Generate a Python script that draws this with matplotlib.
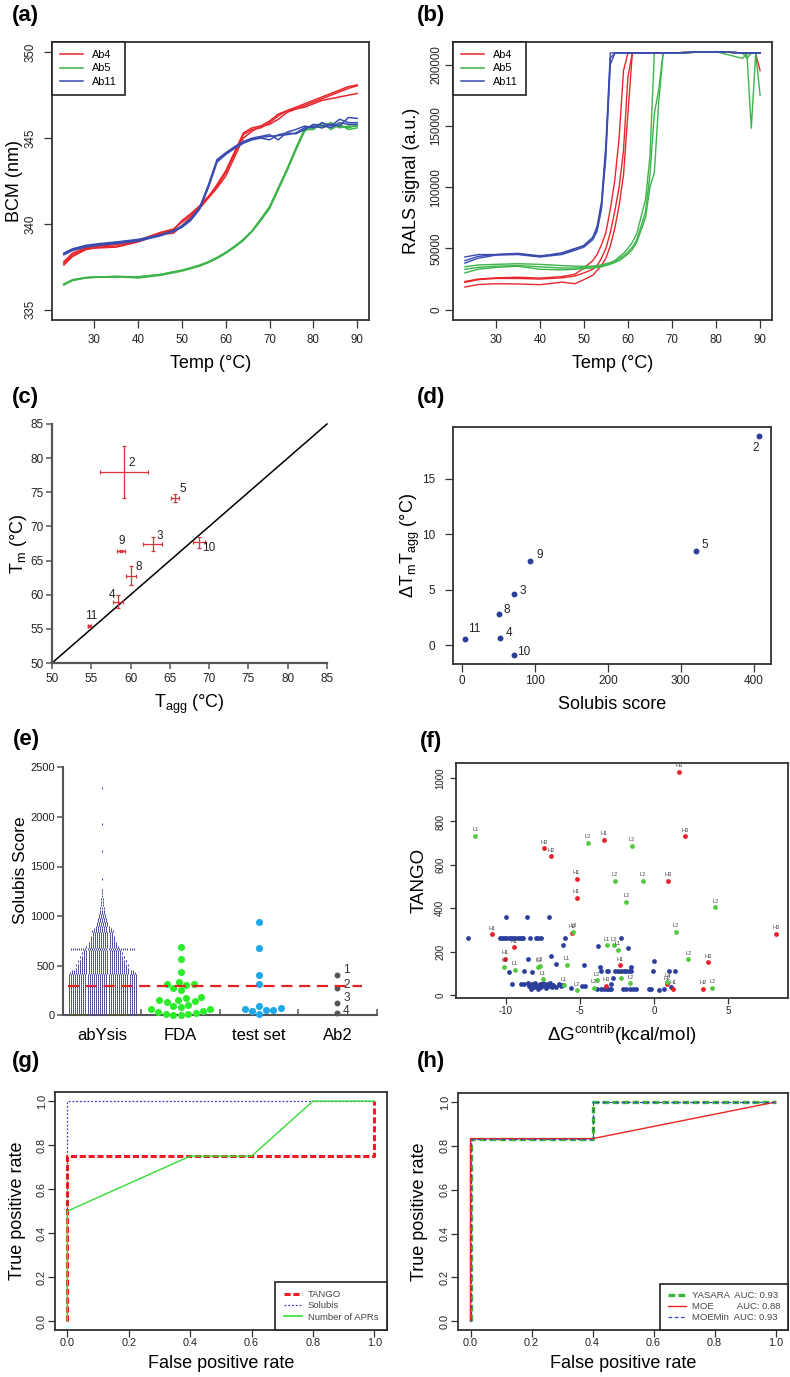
import numpy as np
import matplotlib.pyplot as plt
from matplotlib.lines import Line2D
from matplotlib.ticker import FormatStrFormatter

plt.rcParams['font.family'] = ['Liberation Sans', 'DejaVu Sans']
plt.rcParams['mathtext.fontset'] = 'custom'
plt.rcParams['mathtext.rm'] = 'Liberation Sans'
plt.rcParams['mathtext.it'] = 'Liberation Sans:italic'
plt.rcParams['axes.unicode_minus'] = False

# ---------------- data ----------------
# (a) barycentric mean, 3 replicates per antibody
temps_a = [23, 25, 28, 31, 35, 40, 45, 48, 50, 52, 54, 56, 58, 60, 62, 64, 66, 68, 70, 72, 74, 76, 78, 80, 82, 84, 86, 88, 90]
ab4_bcm = [
    [337.6, 338.1, 338.5, 338.65, 338.7, 339.0, 339.45, 339.65, 340.2, 340.6, 341.05, 341.6, 342.2, 343.0, 344.1, 345.2, 345.5, 345.6, 345.9, 346.3, 346.6, 346.7, 346.9, 347.1, 347.3, 347.5, 347.7, 347.9, 348.05],
    [337.7, 338.2, 338.55, 338.6, 338.65, 338.95, 339.4, 339.45, 339.9, 340.4, 340.9, 341.5, 342.1, 342.8, 343.9, 345.0, 345.4, 345.7, 345.8, 346.1, 346.5, 346.7, 346.8, 347.0, 347.2, 347.3, 347.4, 347.5, 347.6],
    [337.8, 338.3, 338.6, 338.7, 338.8, 339.05, 339.5, 339.7, 340.1, 340.5, 341.0, 341.55, 342.3, 343.1, 344.2, 345.3, 345.6, 345.7, 346.0, 346.4, 346.6, 346.8, 347.0, 347.2, 347.4, 347.6, 347.8, 348.0, 348.1],
]
ab5_bcm = [
    [336.45, 336.7, 336.85, 336.9, 336.9, 336.92, 337.05, 337.2, 337.3, 337.4, 337.55, 337.75, 338.0, 338.3, 338.65, 339.05, 339.55, 340.2, 340.9, 342.0, 343.1, 344.3, 345.4, 345.7, 345.6, 345.8, 345.6, 345.7, 345.7],
    [336.5, 336.75, 336.88, 336.92, 336.92, 336.85, 337.0, 337.15, 337.25, 337.4, 337.55, 337.75, 338.0, 338.3, 338.65, 339.05, 339.6, 340.25, 341.0, 342.1, 343.2, 344.4, 345.5, 345.5, 345.9, 345.5, 345.8, 345.5, 345.6],
    [336.45, 336.72, 336.86, 336.9, 336.95, 336.9, 337.05, 337.2, 337.3, 337.45, 337.6, 337.8, 338.05, 338.35, 338.7, 339.1, 339.6, 340.3, 341.0, 342.1, 343.2, 344.4, 345.55, 345.6, 345.7, 345.9, 345.7, 345.6, 345.75],
]
ab11_bcm = [
    [338.25, 338.5, 338.7, 338.8, 338.9, 339.05, 339.35, 339.6, 339.85, 340.25, 340.9, 342.2, 343.7, 344.1, 344.45, 344.75, 344.95, 345.05, 345.1, 345.15, 345.2, 345.3, 345.6, 345.7, 345.6, 345.8, 345.7, 346.2, 346.15],
    [338.2, 338.45, 338.65, 338.75, 338.85, 339.0, 339.3, 339.55, 339.8, 340.2, 340.85, 342.1, 343.6, 344.05, 344.4, 344.7, 344.9, 345.0, 344.9, 345.2, 345.3, 345.25, 345.5, 345.8, 345.75, 345.6, 345.9, 345.8, 345.8],
    [338.3, 338.55, 338.75, 338.85, 338.95, 339.1, 339.35, 339.6, 339.9, 340.3, 340.95, 342.25, 343.75, 344.15, 344.5, 344.8, 345.0, 345.1, 345.2, 344.9, 345.35, 345.5, 345.7, 345.6, 345.9, 345.7, 346.1, 345.9, 345.9],
]

# (b) RALS signal
temps_b = [23, 26, 30, 35, 40, 45, 48, 50, 52, 53, 54, 55, 56, 57, 58, 59, 60, 61, 62, 64, 65, 66, 67, 68, 70, 80, 86, 87, 88, 89, 90]
ab4_rals = [
    [23000, 25000, 26000, 26500, 25800, 27000, 29000, 34000, 40000, 45000, 53000, 63000, 82000, 105000, 140000, 195000, 209500, 209500, 209500, 209500, 209500, 209500, 209500, 209500, 209500, 210500, 209500, 209500, 209500, 209000, 195000],
    [22300, 24500, 25500, 25500, 25000, 26000, 27500, 30000, 33000, 36000, 42000, 50000, 63000, 80000, 100000, 130000, 190000, 209500, 209500, 209500, 209500, 209500, 209500, 209500, 209500, 210500, 209500, 209500, 209500, 209500, 209500],
    [18500, 20500, 21200, 21000, 20400, 22500, 21200, 24500, 28000, 32000, 36000, 42000, 52000, 66000, 85000, 110000, 160000, 209500, 209500, 209500, 209500, 209500, 209500, 209500, 209500, 210500, 209500, 209500, 209500, 209500, 209500],
]
ab5_rals = [
    [35000, 36500, 37000, 37500, 37000, 36000, 35500, 35500, 35500, 36000, 36500, 37500, 38500, 40000, 43000, 46000, 50000, 55000, 62000, 90000, 125000, 209500, 209500, 209500, 209500, 210500, 209500, 205000, 209500, 209500, 209500],
    [30000, 33000, 34500, 35500, 33000, 32500, 33000, 33500, 34000, 34500, 35000, 36000, 37000, 38500, 40000, 42500, 45500, 49000, 55000, 75000, 100000, 112000, 170000, 209500, 209500, 210500, 205000, 209000, 148000, 209000, 175000],
    [33000, 34500, 35500, 36000, 35000, 34000, 34000, 34500, 35000, 35500, 36000, 37000, 38000, 39500, 41500, 44000, 47000, 51000, 57000, 80000, 110000, 160000, 180000, 209500, 209500, 210500, 209500, 209500, 209500, 209500, 209500],
]
ab11_rals = [
    [43000, 45000, 45000, 45500, 43500, 46500, 50000, 52000, 58500, 65000, 85000, 130000, 205000, 209500, 209500, 209500, 209500, 209500, 209500, 209500, 209500, 209500, 209500, 209500, 209500, 210500, 209500, 209500, 209500, 209500, 209500],
    [38000, 42000, 44500, 45000, 43000, 45000, 48500, 51000, 57000, 64000, 82000, 125000, 200000, 209000, 209500, 209500, 209500, 209500, 209500, 209500, 209500, 209500, 209500, 209500, 209500, 210500, 209500, 209500, 209500, 209500, 209500],
    [40000, 43500, 45000, 46000, 44000, 45500, 49500, 52500, 59000, 68000, 88000, 135000, 209500, 209500, 209500, 209500, 209500, 209500, 209500, 209500, 209500, 209500, 209500, 209500, 209500, 210500, 209500, 209500, 209500, 209500, 209500],
]
ab_names = ['Ab4', 'Ab5', 'Ab11']

# (c) Tm vs Tagg
c_ids = ['2', '5', '9', '3', '10', '8', '4', '11']
c_tagg = [59.2, 65.7, 58.8, 62.8, 68.75, 60.05, 58.4, 54.75]
c_tm = [78.0, 74.2, 66.4, 67.4, 67.7, 62.8, 59.0, 55.35]
c_tagg_err = [3.05, 0.5, 0.5, 1.17, 0.75, 0.64, 0.64, 0.2]
c_tm_err = [3.8, 0.6, 0.1, 1.0, 0.8, 1.4, 1.0, 0.15]

# (d) delta Tm-Tagg vs Solubis score
d_ids = ['2', '5', '9', '3', '8', '11', '4', '10']
d_solubis = [407.7, 321.6, 93, 71, 50, 3.6, 51.3, 70.5]
d_delta = [18.9, 8.5, 7.6, 4.6, 2.8, 0.6, 0.7, -0.9]

# (e) Solubis score distributions
e_groups = ['abYsis', 'FDA', 'test set', 'Ab2']
abysis_score = [10, 30, 50, 70, 90, 110, 130, 150, 170, 190, 210, 230, 250, 270, 290, 310, 330, 350, 370, 390, 410, 430, 450,
                470, 490, 510, 530, 550, 570, 590, 610, 630, 650, 665,
                690, 710, 730, 750, 770, 790, 810, 830, 850, 870,
                890, 910, 930, 950, 970, 990, 1010, 1030, 1050,
                1080, 1110, 1140, 1170, 1200, 1230, 1260, 1370, 1660, 1930, 2290]
abysis_count = [33, 33, 33, 33, 33, 33, 33, 33, 33, 33, 33, 33, 33, 33, 33, 33, 33, 33, 33, 33, 33, 32, 30,
                26, 24, 26, 22, 24, 20, 22, 18, 20, 18, 31,
                16, 14, 14, 12, 12, 12, 10, 10, 11, 9,
                7, 6, 6, 5, 5, 4, 4, 3, 3,
                3, 2, 2, 2, 1, 1, 1, 1, 1, 1, 1]
fda_score = [685, 564, 436, 336, 312, 272, 252, 305, 319, 174, 157, 131, 141, 157, 184,
             101, 84, 60, 43, 67, 91, 26, 10, 3, 3, 13, 33]
test_score = [944, 682, 406, 319, 74, 53, 46, 94, 16, 50, 67]
ab2_score = [406, 278, 121, 26]
ab2_ids = ['1', '2', '3', '4']
solubis_threshold = 300

# (f) TANGO vs dG contrib
f_red = [(1.69, 1029, 'H3'), (2.12, 731, 'H3'), (-3.37, 716, 'H1'), (-7.44, 676, 'H3'), (-6.95, 641, 'H2'),
         (-5.22, 537, 'H1'), (0.95, 528, 'H3'), (-5.22, 449, 'H1'), (-10.93, 280, 'H1'), (-5.5, 288, 'H2'),
         (8.21, 283, 'H3'), (-9.42, 220, 'H2'), (-10.07, 168, 'H1'), (-2.27, 137, 'H1'), (3.64, 151, 'H3'),
         (-3.26, 43, 'H3'), (0.88, 51, 'H2'), (1.26, 29, 'H1'), (3.29, 29, 'H2')]
f_green = [(-12.05, 734, 'L1'), (-4.45, 703, 'L2'), (-1.5, 688, 'L2'), (-2.63, 528, 'L2'), (-0.76, 528, 'L2'),
           (-1.86, 430, 'L2'), (4.12, 405, 'L2'), (-5.45, 293, 'L3'), (1.46, 292, 'L2'), (-3.17, 230, 'L1'),
           (-2.7, 230, 'L2'), (-2.45, 208, 'L1'), (-10.1, 130, 'L1'), (-9.38, 116, 'L1'), (-7.8, 131, 'L3'),
           (-7.68, 135, 'L3'), (-5.89, 140, 'L1'), (2.3, 166, 'L2'), (-7.49, 74, 'L1'), (-6.09, 45, 'L1'),
           (-5.19, 23, 'L2'), (-4.07, 34, 'L2'), (-3.87, 69, 'L2'), (-2.25, 77, 'L3'), (-1.59, 54, 'L2'),
           (0.9, 61, 'L4'), (3.94, 34, 'L2')]
f_blue_x = [-12.55, -10.4, -10.25, -10.1, -9.95, -9.8, -9.65, -9.5, -9.35, -9.2, -9.05, -8.9, -8.8, -8.38, -7.94,
            -7.8, -7.65, -6.03, -2.2, -10.0, -8.54, -7.08, -6.14, -1.75, -3.75, -8.48, -6.97, -6.63, -4.74,
            -9.76, -8.79, -8.23, -3.66, 0.0, -1.57, -3.6, -3.2, -3.1, -2.65, -2.4, -2.2, -2.0, -1.86, -1.7,
            -1.53, -0.04, 0.99, 1.4, -2.77, -9.58, -8.95, -8.79, -8.5, -8.4, -8.3, -8.2, -8.1, -8.0, -7.9,
            -7.8, -7.7, -7.6, -7.5, -7.4, -7.3, -7.2, -7.1, -7.0, -6.9, -6.8, -6.6, -6.4, -6.3, -6.2, -5.57,
            -4.83, -4.68, -3.82, -3.55, -3.4, -3.2, -3.05, -2.9, -2.87, -2.09, -1.9, -1.65, -1.4, -1.19, -0.34,
            -0.18, 0.32, 0.67, 1.13]
f_blue_y = [262, 262, 262, 262, 262, 262, 262, 262, 262, 262, 262, 262, 262, 262, 262,
            262, 262, 262, 265, 359, 359, 360, 231, 216, 226, 168, 179, 145, 137,
            106, 112, 106, 129, 158, 129, 112, 112, 112, 112, 112, 112, 112, 112, 112,
            112, 112, 112, 112, 80, 49, 51, 49, 55, 40, 30, 50, 36, 56, 42,
            30, 52, 38, 58, 45, 32, 52, 40, 56, 35, 48, 38, 52, 40, 48, 31,
            42, 42, 29, 29, 29, 29, 29, 29, 51, 29, 29, 29, 29, 29, 29,
            29, 23, 29, 35]

# (g) ROC curves
tango_fpr, tango_tpr = [0, 0, 1, 1], [0, 0.75, 0.75, 1]
solubis_fpr, solubis_tpr = [0, 0, 1], [0, 1, 1]
apr_fpr, apr_tpr = [0, 0, 0.4, 0.6, 0.8, 1], [0, 0.5, 0.75, 0.75, 1, 1]

# (h) ROC curves
yasara_fpr, yasara_tpr = [0, 0, 0.4, 0.4, 1], [0, 0.833, 0.833, 1, 1]
moe_fpr, moe_tpr = [0, 0, 0.4, 1], [0, 0.833, 0.833, 1]
moemin_fpr, moemin_tpr = [0, 0, 0.4, 0.4, 1], [0, 0.833, 0.833, 1, 1]
auc_h = {'YASARA': 0.93, 'MOE': 0.88, 'MOEMin': 0.93}

# ---------------- helpers ----------------
W, H = 790, 1377
RED, GREEN, BLUE = '#e8262b', '#3cb44a', '#3b4cb0'
fig = plt.figure(figsize=(W / 100, H / 100), dpi=100)


def rect(l, t, r, b):
    return [l / W, 1 - b / H, (r - l) / W, (b - t) / H]


def r_style(ax, xt, yt, xlim, ylim, size=8.3, length=6, xpad=4, ypad=3.5, rot=True):
    ax.set_xlim(*xlim)
    ax.set_ylim(*ylim)
    ax.set_xticks(xt)
    ax.set_yticks(yt)
    for s in ax.spines.values():
        s.set_linewidth(1.3)
        s.set_color('#333333')
    ax.tick_params(direction='out', length=length, width=0.9, color='#333333',
                   labelsize=size, labelcolor='#222222')
    ax.tick_params(axis='x', pad=xpad)
    ax.tick_params(axis='y', pad=ypad)
    if rot:
        plt.setp(ax.get_yticklabels(), rotation=90, va='center')


def labels(ax, xl, yl, ypos_x, xpos_y, size=13, ymid=0.5):
    ax.set_xlabel(xl, fontsize=size)
    ax.set_ylabel(yl, fontsize=size)
    ax.xaxis.set_label_coords(0.5, xpos_y)
    ax.yaxis.set_label_coords(ypos_x, ymid)
    ax.xaxis.label.set_va('center')
    ax.yaxis.label.set_va('center')


def r_legend(ax, handles, names, loc, size, **kw):
    leg = ax.legend(handles, names, loc=loc, borderaxespad=0, fontsize=size, fancybox=False,
                    edgecolor='#222222', framealpha=1, **kw)
    leg.get_frame().set_linewidth(1.2)
    return leg


def swarm(vals, px_y, diam):
    # simple beeswarm: x offsets in pixels
    order = np.argsort(vals, kind='stable')
    placed = []
    out = np.zeros(len(vals))
    for i in order:
        y = vals[i] * px_y
        cands = [0.0]
        for px, py in placed:
            dy = y - py
            if abs(dy) < diam:
                dx = np.sqrt(diam ** 2 - dy ** 2)
                cands += [px - dx, px + dx]
        cands.sort(key=lambda c: (round(abs(c), 6), c))
        for c in cands:
            if all((c - px) ** 2 + (y - py) ** 2 >= diam ** 2 - 1e-6 for px, py in placed):
                out[i] = c
                placed.append((c, y))
                break
    return out


panel_letters = {'(a)': (12, 16), '(b)': (417, 16), '(c)': (12, 398), '(d)': (417, 397),
                 '(e)': (13, 740), '(f)': (420, 741), '(g)': (12, 1062), '(h)': (417, 1062)}
for lab, (px, py) in panel_letters.items():
    fig.text(px / W, 1 - py / H, lab, fontsize=16, fontweight='bold', va='center', ha='left')

# ---------------- (a) ----------------
ax = fig.add_axes(rect(52, 42, 369, 320))
for reps, col in [(ab4_bcm, RED), (ab5_bcm, GREEN), (ab11_bcm, BLUE)]:
    for r in reps:
        ax.plot(temps_a, r, color=col, lw=1.1)
r_style(ax, [30, 40, 50, 60, 70, 80, 90], [335, 340, 345, 350], (20.3, 92.7), (334.4, 350.6), ypad=5)
labels(ax, 'Temp (°C)', 'BCM (nm)', -0.117, -0.155)
hs = [Line2D([], [], color=c, lw=1.1) for c in (RED, GREEN, BLUE)]
r_legend(ax, hs, ab_names, 'upper left', 7.8, handlelength=2.2, handletextpad=0.8,
         borderpad=0.7, labelspacing=0.35)

# ---------------- (b) ----------------
ax = fig.add_axes(rect(453, 42, 772, 320))
for reps, col in [(ab4_rals, RED), (ab5_rals, GREEN), (ab11_rals, BLUE)]:
    for r in reps:
        ax.plot(temps_b, r, color=col, lw=1.0)
yt = [0, 50000, 100000, 150000, 200000]
r_style(ax, [30, 40, 50, 60, 70, 80, 90], yt, (20.3, 92.7), (-8400, 218400), ypad=1.5)
ax.set_yticklabels([str(v) for v in yt])
plt.setp(ax.get_yticklabels(), rotation=90, va='center')
labels(ax, 'Temp (°C)', 'RALS signal (a.u.)', -0.129, -0.155)
r_legend(ax, hs, ab_names, 'upper left', 7.8, handlelength=2.2, handletextpad=0.8,
         borderpad=0.7, labelspacing=0.35)

# ---------------- (c) ----------------
ax = fig.add_axes(rect(52, 424, 327, 663))
ax.set_xlim(50, 85)
ax.set_ylim(50, 85)
ax.plot(ax.get_xlim(), ax.get_ylim(), color='black', lw=1.1, clip_on=False)
ax.errorbar(c_tagg, c_tm, xerr=c_tagg_err, yerr=c_tm_err, fmt='none', ecolor='#d9343b',
            elinewidth=0.9, capsize=1.5, capthick=0.9)
c_off = {'2': (5.5, 6), '5': (5, 6.5), '9': (0.7, 7.2), '3': (5.5, 6), '10': (7, -4),
         '8': (5.7, 6.5), '4': (-4, 5), '11': (1.7, 7.5)}
for i, t in enumerate(c_ids):
    ax.annotate(t, (c_tagg[i], c_tm[i]), xytext=c_off[t], textcoords='offset points',
                ha='center', va='center', fontsize=8.5, color='#222222')
ax.spines['top'].set_visible(False)
ax.spines['right'].set_visible(False)
for s in ('left', 'bottom'):
    ax.spines[s].set_linewidth(1.6)
    ax.spines[s].set_color('#555555')
ax.set_xticks(range(50, 90, 5))
ax.set_yticks(range(50, 90, 5))
ax.tick_params(direction='out', length=4, width=1.1, color='#555555', labelsize=8.5, labelcolor='#222222')
ax.tick_params(axis='x', pad=3.5)
ax.tick_params(axis='y', pad=2)
labels(ax, r'T$_{\mathregular{agg}}$ (°C)', r'T$_{\mathregular{m}}$ (°C)', -0.12, -0.172)

# ---------------- (d) ----------------
ax = fig.add_axes(rect(453, 427, 771, 664))
ax.scatter(d_solubis, d_delta, s=18, color='#2b3f99', lw=0, zorder=3)
d_off = {'2': (-2.4, -8.9), '5': (6.2, 4.5), '9': (7, 4.3), '3': (6.5, 2.4), '8': (6.2, 2.9),
         '11': (7, 6.7), '4': (6.7, 2.9), '10': (7.4, 2.2)}
for i, t in enumerate(d_ids):
    ax.annotate(t, (d_solubis[i], d_delta[i]), xytext=d_off[t], textcoords='offset points',
                ha='center', va='center', fontsize=8.5, color='#222222')
r_style(ax, [0, 100, 200, 300, 400], [0, 5, 10, 15], (-12.6, 424.0), (-1.69, 19.69),
        size=8.5, xpad=2, ypad=7, rot=False)
labels(ax, 'Solubis score', 'Δ' + r'T$_{\mathregular{m}}$T$_{\mathregular{agg}}$ (°C)', -0.133, -0.169)

# ---------------- (e) ----------------
ax = fig.add_axes(rect(63, 767.3, 376.7, 1015.3))
ax.set_xlim(0, 4)
ax.set_ylim(0, 2500)
px_x = (376.7 - 63) / 4
px_y = (1015.3 - 767.3) / 2500
# abYsis as rows of small dots
ax_x, ax_y = [], []
for sc, n in zip(abysis_score, abysis_count):
    for k in range(n):
        ax_x.append(0.5 + (k - (n - 1) / 2) * 2.1 / px_x)
        ax_y.append(sc)
ax.scatter(ax_x, ax_y, s=2.2, marker='|', color='#1c1c8c', linewidths=0.6, clip_on=False)
for gi, vals, col, diam, size in [(1, fda_score, '#2aee2a', 7.6, 26), (2, test_score, '#1ea8e8', 7.6, 26),
                                  (3, ab2_score, '#555555', 6.5, 18)]:
    offs = swarm(np.array(vals, float), px_y, diam)
    ax.scatter(gi + 0.5 + offs / px_x, vals, s=size, color=col, lw=0, clip_on=False, zorder=3)
ab2_off = {'1': 3.6, '2': 1.9, '3': 4.0, '4': 1.4}
for i, t in enumerate(ab2_ids):
    ax.annotate(t, (3.5, ab2_score[i]), xytext=(4, ab2_off[t]), textcoords='offset points',
                ha='left', va='center', fontsize=8.5, color='#333333')
ax.plot([0.06, 3.81], [solubis_threshold] * 2, color='#e02424', lw=1.6, dashes=(5, 3), zorder=4)
ax.spines['top'].set_visible(False)
ax.spines['right'].set_visible(False)
for s in ('left', 'bottom'):
    ax.spines[s].set_linewidth(1.5)
    ax.spines[s].set_color('#555555')
ax.set_yticks([0, 500, 1000, 1500, 2000, 2500])
ax.set_xticks([0, 1, 2, 3, 4])
ax.set_xticklabels([])
ax.tick_params(axis='y', direction='out', length=4, width=1.1, color='#555555', labelsize=8,
               labelcolor='#222222', pad=2)
ax.tick_params(axis='x', direction='in', length=4, width=1.1, color='#555555')
for i, g in enumerate(e_groups):
    ax.text(i + 0.5, -0.081, g, transform=ax.get_xaxis_transform(), ha='center', va='center', fontsize=12)
ax.set_ylabel('Solubis Score', fontsize=12.5)
ax.yaxis.set_label_coords(-0.137, 0.586)
ax.yaxis.label.set_va('center')

# ---------------- (f) ----------------
ax = fig.add_axes(rect(455.7, 763.3, 788, 997.7))
ax.scatter(f_blue_x, f_blue_y, s=12, color='#2c3f9c', lw=0, zorder=2)
for pts, col in [(f_red, '#e8202a'), (f_green, '#55c840')]:
    ax.scatter([p[0] for p in pts], [p[1] for p in pts], s=12, color=col, lw=0, zorder=3)
    for x, y, t in pts:
        ax.annotate(t, (x, y), xytext=(0, 2.5), textcoords='offset points', ha='center',
                    va='bottom', fontsize=4, color='#444444')
r_style(ax, [-10, -5, 0, 5], [0, 200, 400, 600, 800, 1000], (-13.37, 9.03), (-12, 1068),
        size=7, length=4.5, xpad=1.5, ypad=3)
labels(ax, 'Δ' + r'G$^{\mathregular{contrib}}$(kcal/mol)', 'TANGO', -0.11, -0.16, size=13.5)

# ---------------- (g) ----------------
ax = fig.add_axes(rect(55, 1092.3, 386.7, 1330))
ax.plot(tango_fpr, tango_tpr, color='#ee1c24', lw=2.2, dashes=(2, 0.9))
ax.plot(solubis_fpr, solubis_tpr, color='#3a3acc', lw=0.9, dashes=(1.5, 1.5))
ax.plot(apr_fpr, apr_tpr, color='#33dd33', lw=1.0)
tk = [0, 0.2, 0.4, 0.6, 0.8, 1.0]
r_style(ax, tk, tk, (-0.04, 1.04), (-0.04, 1.04), size=7.8, length=5, xpad=1, ypad=1)
ax.xaxis.set_major_formatter(FormatStrFormatter('%.1f'))
ax.yaxis.set_major_formatter(FormatStrFormatter('%.1f'))
labels(ax, 'False positive rate', 'True positive rate', -0.113, -0.143)
hg = [Line2D([], [], color='#ee1c24', lw=2.2, dashes=(2, 0.9)),
      Line2D([], [], color='#3a3acc', lw=0.9, dashes=(1.5, 1.5)),
      Line2D([], [], color='#33dd33', lw=1.2)]
leg = r_legend(ax, hg, ['TANGO', 'Solubis', 'Number of APRs'], 'lower right', 6.8,
               handlelength=1.9, handletextpad=0.6, borderpad=0.9, labelspacing=0.22)
for t in leg.get_texts():
    t.set_color('#444444')

# ---------------- (h) ----------------
ax = fig.add_axes(rect(458.3, 1093.3, 787.7, 1330))
ax.plot(yasara_fpr, yasara_tpr, color='#3cb43c', lw=2.4, dashes=(2, 1))
ax.plot(moe_fpr, moe_tpr, color='#ee2222', lw=1.0)
ax.plot(moemin_fpr, moemin_tpr, color='#3a4fc0', lw=0.9, dashes=(3, 2))
r_style(ax, tk, tk, (-0.04, 1.04), (-0.04, 1.04), size=7.8, length=5, xpad=1, ypad=1)
ax.xaxis.set_major_formatter(FormatStrFormatter('%.1f'))
ax.yaxis.set_major_formatter(FormatStrFormatter('%.1f'))
labels(ax, 'False positive rate', 'True positive rate', -0.118, -0.143)
hh = [Line2D([], [], color='#3cb43c', lw=2.4, dashes=(2, 1)),
      Line2D([], [], color='#ee2222', lw=1.0),
      Line2D([], [], color='#3a4fc0', lw=0.9, dashes=(3, 2))]
pad = {'YASARA': '  ', 'MOE': '         ', 'MOEMin': '  '}
leg = r_legend(ax, hh, [k + pad[k] + 'AUC: %.2f' % v for k, v in auc_h.items()], 'lower right', 6.8,
               handlelength=1.9, handletextpad=0.6, borderpad=0.8, labelspacing=0.22)
for t in leg.get_texts():
    t.set_color('#444444')

fig.savefig('out.png', dpi=100)
